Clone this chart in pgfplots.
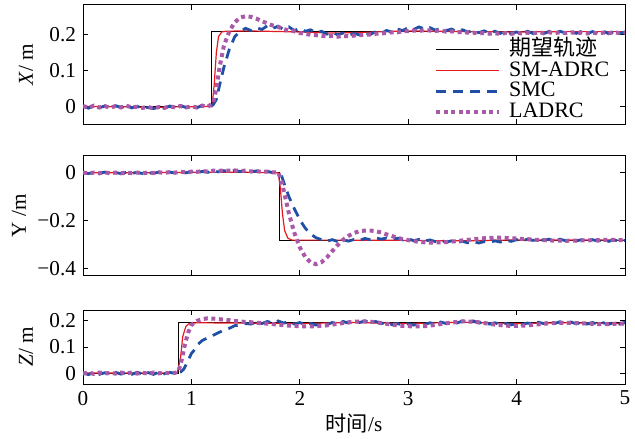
\documentclass[border=0pt]{standalone}
\usepackage{pgfplots}
\pgfplotsset{compat=1.18}
\usepackage{fontspec}
\setmainfont{Liberation Serif}
\newfontfamily\cjk{Noto Sans CJK SC}
\definecolor{smcblue}{RGB}{32,80,165}
\definecolor{ladrcpurple}{RGB}{170,88,168}
\definecolor{smred}{RGB}{230,25,30}
\pgfplotsset{
  every axis/.append style={font=\fontsize{10.6}{12}\selectfont},
  myax/.style={scale only axis, width=271pt, xmin=0, xmax=5,
    xtick={0,1,2,3,4,5}, tick align=inside, major tick length=2.5pt,
    anchor=north west, axis line style={line width=0.5pt},
    every tick/.style={black, line width=0.5pt},
    clip=true},
  ref/.style={black, line width=0.5pt},
  smadrc/.style={smred, line width=0.6pt},
  smc/.style={smcblue, line width=1.4pt, dash pattern=on 5pt off 3.5pt},
  ladrc/.style={ladrcpurple, line width=2pt, dash pattern=on 2pt off 1.8pt},
  legend image code/.code={\draw[#1] (0pt,0pt) -- (31.5pt,0pt);},
}
\begin{document}
\begin{tikzpicture}
\path[use as bounding box] (-41.5pt,2.5pt) rectangle (276pt,-216.5pt);
% ---------------- X ----------------
\begin{axis}[myax, at={(0pt,0pt)}, height=59.5pt,
  ymin=-0.048, ymax=0.283, ytick={0,0.1,0.2}, yticklabels={0,0.1,0.2},
  xticklabels={},
  ylabel={\textit{X}/ m}, ylabel style={at={(axis description cs:-0.105,0.5)}, anchor=center},
  legend style={draw=none, fill=none, at={(axis cs:3.235,0.188)}, anchor=north west,
    font=\fontsize{11}{12}\selectfont, row sep=0pt, inner sep=0pt,
    nodes={text height=7.6pt, text depth=2.2pt, inner sep=0.3pt, inner xsep=4pt}},
  legend cell align=left]
\addplot[ref] coordinates {(0,0) (1.19,0) (1.19,0.21) (5,0.21)};
\addlegendentry{{\cjk 期望轨迹}}
\addplot[smadrc] coordinates {(0,0) (0.1,0.001) (0.2,-0.001) (0.3,0.001) (0.4,0.0) (0.5,-0.001) (0.6,-0.002) (0.7,-0.002) (0.8,-0.001) (0.9,0) (1.0,0) (1.1,0.001) (1.19,0.0) (1.21,0.06) (1.23,0.15) (1.25,0.195) (1.28,0.208) (1.32,0.21) (1.5,0.211) (2.0,0.208) (2.3,0.205) (2.6,0.207) (3.0,0.211) (3.5,0.209) (4.0,0.208) (4.5,0.209) (5.0,0.209)};
\addlegendentry{SM-ADRC}
\addplot[smc] coordinates {(0,0.003) (0.05,-0.004) (0.1,0.004) (0.15,-0.003) (0.2,0.002) (0.25,-0.004) (0.3,0.003) (0.35,-0.002) (0.4,0.004) (0.45,-0.003) (0.5,0.001) (0.55,-0.004) (0.6,-0.002) (0.65,-0.005) (0.7,-0.001) (0.75,-0.004) (0.8,0.002) (0.85,-0.003) (0.9,0.003) (0.95,-0.002) (1.0,0.002) (1.05,-0.003) (1.1,0.004) (1.15,0.0) (1.2,0.005) (1.23,0.02) (1.26,0.06) (1.3,0.11) (1.35,0.16) (1.4,0.195) (1.45,0.21) (1.5,0.218) (1.55,0.212) (1.6,0.22) (1.65,0.215) (1.7,0.225) (1.75,0.218) (1.8,0.224) (1.85,0.215) (1.9,0.222) (1.95,0.212) (2.0,0.218) (2.05,0.21) (2.1,0.214) (2.15,0.205) (2.2,0.21) (2.25,0.202) (2.3,0.207) (2.35,0.2) (2.4,0.205) (2.45,0.198) (2.5,0.204) (2.55,0.2) (2.6,0.206) (2.65,0.201) (2.7,0.209) (2.75,0.204) (2.8,0.212) (2.85,0.208) (2.9,0.216) (2.95,0.212) (3.0,0.22) (3.05,0.215) (3.1,0.222) (3.15,0.216) (3.2,0.22) (3.25,0.213) (3.3,0.218) (3.35,0.212) (3.4,0.216) (3.45,0.209) (3.5,0.214) (3.55,0.208) (3.6,0.212) (3.65,0.206) (3.7,0.211) (3.75,0.205) (3.8,0.21) (3.85,0.204) (3.9,0.209) (3.95,0.203) (4.0,0.208) (4.05,0.203) (4.1,0.21) (4.15,0.204) (4.2,0.209) (4.25,0.203) (4.3,0.21) (4.35,0.204) (4.4,0.21) (4.45,0.205) (4.5,0.211) (4.55,0.204) (4.6,0.21) (4.65,0.203) (4.7,0.209) (4.75,0.204) (4.8,0.21) (4.85,0.203) (4.9,0.209) (4.95,0.204) (5.0,0.208)};
\addlegendentry{SMC}
\addplot[ladrc] coordinates {(0,0.002) (0.05,-0.003) (0.1,0.003) (0.15,-0.002) (0.2,0.002) (0.25,-0.003) (0.3,0.002) (0.35,-0.002) (0.4,0.003) (0.45,-0.002) (0.5,0.0) (0.55,-0.003) (0.6,-0.001) (0.65,-0.004) (0.7,-0.001) (0.75,-0.003) (0.8,0.001) (0.85,-0.002) (0.9,0.002) (0.95,-0.002) (1.0,0.001) (1.05,-0.002) (1.1,0.003) (1.15,0.0) (1.2,0.01) (1.23,0.05) (1.26,0.11) (1.3,0.17) (1.35,0.21) (1.4,0.235) (1.45,0.248) (1.5,0.252) (1.55,0.25) (1.6,0.245) (1.65,0.238) (1.7,0.232) (1.75,0.226) (1.8,0.222) (1.85,0.216) (1.9,0.212) (1.95,0.21) (2.0,0.205) (2.05,0.203) (2.1,0.2) (2.15,0.199) (2.2,0.197) (2.25,0.196) (2.3,0.197) (2.35,0.195) (2.4,0.197) (2.45,0.196) (2.5,0.198) (2.55,0.199) (2.6,0.2) (2.65,0.201) (2.7,0.203) (2.75,0.204) (2.8,0.205) (2.85,0.207) (2.9,0.207) (2.95,0.21) (3.0,0.21) (3.05,0.212) (3.1,0.211) (3.15,0.213) (3.2,0.212) (3.25,0.211) (3.3,0.212) (3.35,0.209) (3.4,0.21) (3.45,0.207) (3.5,0.208) (3.55,0.206) (3.6,0.206) (3.65,0.204) (3.7,0.205) (3.75,0.203) (3.8,0.204) (3.85,0.203) (3.9,0.205) (3.95,0.203) (4.0,0.205) (4.05,0.204) (4.1,0.206) (4.15,0.204) (4.2,0.207) (4.25,0.205) (4.3,0.207) (4.35,0.205) (4.4,0.207) (4.45,0.205) (4.5,0.207) (4.55,0.205) (4.6,0.206) (4.65,0.204) (4.7,0.206) (4.75,0.204) (4.8,0.206) (4.85,0.205) (4.9,0.207) (4.95,0.205) (5.0,0.206)};
\addlegendentry{LADRC}
\end{axis}
% ---------------- Y ----------------
\begin{axis}[myax, at={(0pt,-75.5pt)}, height=59.5pt,
  ymin=-0.425, ymax=0.07, ytick={-0.4,-0.2,0}, yticklabels={−0.4,−0.2,0},
  xticklabels={},
  ylabel={Y /m}, ylabel style={at={(axis description cs:-0.118,0.5)}, anchor=center}]
\addplot[ref] coordinates {(0,0) (1.81,0) (1.81,-0.28) (5,-0.28)};
\addplot[smadrc] coordinates {(0,0) (0.5,0.0) (1.0,0.002) (1.5,0.003) (1.8,0.0) (1.82,-0.06) (1.84,-0.17) (1.86,-0.24) (1.89,-0.272) (1.93,-0.28) (2.5,-0.28) (3.0,-0.281) (3.5,-0.283) (4.0,-0.279) (4.5,-0.279) (5.0,-0.28)};
\addplot[smc] coordinates {(0,0.002) (0.05,-0.003) (0.1,0.002) (0.15,-0.002) (0.2,0.003) (0.25,-0.003) (0.3,0.001) (0.35,-0.003) (0.4,0.002) (0.45,-0.002) (0.5,0.002) (0.55,-0.003) (0.6,0.001) (0.65,-0.002) (0.7,0.003) (0.75,-0.002) (0.8,0.003) (0.85,-0.001) (0.9,0.004) (0.95,0.0) (1.0,0.005) (1.05,0.001) (1.1,0.006) (1.15,0.002) (1.2,0.008) (1.25,0.004) (1.3,0.009) (1.35,0.005) (1.4,0.01) (1.45,0.005) (1.5,0.009) (1.55,0.004) (1.6,0.008) (1.65,0.003) (1.7,0.006) (1.75,0.001) (1.8,0.003) (1.83,-0.01) (1.86,-0.05) (1.9,-0.1) (1.95,-0.15) (2.0,-0.195) (2.05,-0.23) (2.1,-0.255) (2.15,-0.27) (2.2,-0.278) (2.25,-0.284) (2.3,-0.278) (2.35,-0.286) (2.4,-0.279) (2.45,-0.284) (2.5,-0.277) (2.55,-0.281) (2.6,-0.273) (2.65,-0.278) (2.7,-0.27) (2.75,-0.276) (2.8,-0.271) (2.85,-0.277) (2.9,-0.272) (2.95,-0.279) (3.0,-0.274) (3.05,-0.282) (3.1,-0.277) (3.15,-0.284) (3.2,-0.279) (3.25,-0.286) (3.3,-0.281) (3.35,-0.288) (3.4,-0.283) (3.45,-0.29) (3.5,-0.285) (3.55,-0.291) (3.6,-0.285) (3.65,-0.292) (3.7,-0.286) (3.75,-0.29) (3.8,-0.283) (3.85,-0.288) (3.9,-0.281) (3.95,-0.285) (4.0,-0.278) (4.05,-0.283) (4.1,-0.276) (4.15,-0.281) (4.2,-0.275) (4.25,-0.281) (4.3,-0.276) (4.35,-0.282) (4.4,-0.276) (4.45,-0.282) (4.5,-0.277) (4.55,-0.283) (4.6,-0.278) (4.65,-0.284) (4.7,-0.278) (4.75,-0.284) (4.8,-0.279) (4.85,-0.285) (4.9,-0.279) (4.95,-0.285) (5.0,-0.281)};
\addplot[ladrc] coordinates {(0,0.001) (0.05,-0.002) (0.1,0.001) (0.15,-0.002) (0.2,0.002) (0.25,-0.002) (0.3,0.001) (0.35,-0.002) (0.4,0.001) (0.45,-0.001) (0.5,0.001) (0.55,-0.002) (0.6,0.001) (0.65,-0.001) (0.7,0.002) (0.75,0.0) (0.8,0.003) (0.85,0.001) (0.9,0.004) (0.95,0.002) (1.0,0.005) (1.05,0.004) (1.1,0.007) (1.15,0.006) (1.2,0.009) (1.25,0.008) (1.3,0.01) (1.35,0.009) (1.4,0.01) (1.45,0.008) (1.5,0.009) (1.55,0.006) (1.6,0.007) (1.65,0.004) (1.7,0.005) (1.75,0.002) (1.8,0.002) (1.83,-0.03) (1.86,-0.09) (1.9,-0.17) (1.95,-0.25) (2.0,-0.31) (2.05,-0.35) (2.1,-0.373) (2.15,-0.38) (2.2,-0.372) (2.25,-0.352) (2.3,-0.325) (2.35,-0.3) (2.4,-0.278) (2.45,-0.262) (2.5,-0.25) (2.55,-0.243) (2.6,-0.24) (2.65,-0.24) (2.7,-0.243) (2.75,-0.248) (2.8,-0.256) (2.85,-0.263) (2.9,-0.27) (2.95,-0.276) (3.0,-0.28) (3.05,-0.284) (3.1,-0.287) (3.15,-0.289) (3.2,-0.29) (3.25,-0.29) (3.3,-0.289) (3.35,-0.288) (3.4,-0.286) (3.45,-0.284) (3.5,-0.281) (3.55,-0.279) (3.6,-0.276) (3.65,-0.274) (3.7,-0.272) (3.75,-0.271) (3.8,-0.27) (3.85,-0.27) (3.9,-0.271) (3.95,-0.272) (4.0,-0.273) (4.05,-0.275) (4.1,-0.276) (4.15,-0.278) (4.2,-0.279) (4.25,-0.28) (4.3,-0.281) (4.35,-0.282) (4.4,-0.282) (4.45,-0.283) (4.5,-0.282) (4.55,-0.282) (4.6,-0.281) (4.65,-0.281) (4.7,-0.28) (4.75,-0.28) (4.8,-0.279) (4.85,-0.279) (4.9,-0.279) (4.95,-0.28) (5.0,-0.28)};
\end{axis}
% ---------------- Z ----------------
\begin{axis}[myax, at={(0pt,-152.5pt)}, height=37pt,
  ymin=-0.042, ymax=0.242, ytick={0,0.1,0.2}, yticklabels={0,0.1,0.2},
  xticklabels={0,1,2,3,4,5},
  xlabel={{\cjk 时间}/s}, xlabel style={yshift=2.5pt},
  ylabel={\textit{Z}/ m}, ylabel style={at={(axis description cs:-0.105,0.5)}, anchor=center}]
\addplot[ref] coordinates {(0,0) (0.88,0) (0.88,0.193) (5,0.193)};
\addplot[smadrc] coordinates {(0,0) (0.5,0.0) (0.87,0.0) (0.9,0.06) (0.92,0.14) (0.95,0.18) (0.98,0.19) (1.05,0.193) (2.0,0.19) (2.5,0.194) (3.0,0.19) (3.5,0.195) (4.0,0.19) (4.5,0.193) (5.0,0.19)};
\addplot[smc] coordinates {(0,0.0) (0.05,-0.006) (0.1,0.002) (0.15,-0.005) (0.2,0.001) (0.25,-0.004) (0.3,0.003) (0.35,-0.004) (0.4,0.002) (0.45,-0.005) (0.5,0.003) (0.55,-0.004) (0.6,0.002) (0.65,-0.005) (0.7,0.004) (0.75,-0.003) (0.8,0.003) (0.85,-0.002) (0.9,0.004) (0.93,0.015) (0.96,0.04) (1.0,0.075) (1.03,0.09) (1.06,0.11) (1.1,0.125) (1.15,0.135) (1.2,0.145) (1.25,0.155) (1.3,0.165) (1.35,0.172) (1.4,0.182) (1.45,0.184) (1.5,0.19) (1.55,0.188) (1.6,0.196) (1.65,0.19) (1.7,0.198) (1.75,0.192) (1.8,0.2) (1.85,0.192) (1.9,0.197) (1.95,0.188) (2.0,0.194) (2.05,0.186) (2.1,0.19) (2.15,0.184) (2.2,0.19) (2.25,0.186) (2.3,0.194) (2.35,0.19) (2.4,0.198) (2.45,0.192) (2.5,0.2) (2.55,0.194) (2.6,0.2) (2.65,0.193) (2.7,0.198) (2.75,0.19) (2.8,0.194) (2.85,0.186) (2.9,0.19) (2.95,0.184) (3.0,0.189) (3.05,0.184) (3.1,0.19) (3.15,0.186) (3.2,0.193) (3.25,0.188) (3.3,0.196) (3.35,0.19) (3.4,0.198) (3.45,0.192) (3.5,0.2) (3.55,0.194) (3.6,0.2) (3.65,0.192) (3.7,0.196) (3.75,0.188) (3.8,0.193) (3.85,0.186) (3.9,0.19) (3.95,0.185) (4.0,0.19) (4.05,0.186) (4.1,0.192) (4.15,0.188) (4.2,0.195) (4.25,0.19) (4.3,0.196) (4.35,0.19) (4.4,0.197) (4.45,0.19) (4.5,0.196) (4.55,0.189) (4.6,0.195) (4.65,0.188) (4.7,0.194) (4.75,0.187) (4.8,0.193) (4.85,0.187) (4.9,0.194) (4.95,0.188) (5.0,0.195)};
\addplot[ladrc] coordinates {(0,-0.002) (0.05,0.002) (0.1,-0.003) (0.15,0.002) (0.2,-0.002) (0.25,0.001) (0.3,-0.002) (0.35,0.002) (0.4,-0.001) (0.45,0.002) (0.5,-0.002) (0.55,0.001) (0.6,-0.002) (0.65,0.002) (0.7,-0.001) (0.75,0.002) (0.8,-0.001) (0.85,0.001) (0.88,0.005) (0.91,0.05) (0.94,0.11) (0.97,0.155) (1.0,0.185) (1.05,0.2) (1.1,0.207) (1.15,0.21) (1.2,0.209) (1.25,0.207) (1.3,0.205) (1.35,0.203) (1.4,0.2) (1.45,0.198) (1.5,0.196) (1.55,0.195) (1.6,0.193) (1.65,0.191) (1.7,0.19) (1.75,0.188) (1.8,0.186) (1.85,0.184) (1.9,0.182) (1.95,0.181) (2.0,0.18) (2.05,0.179) (2.1,0.179) (2.15,0.18) (2.2,0.181) (2.25,0.183) (2.3,0.186) (2.35,0.189) (2.4,0.192) (2.45,0.195) (2.5,0.197) (2.55,0.198) (2.6,0.198) (2.65,0.197) (2.7,0.195) (2.75,0.192) (2.8,0.189) (2.85,0.186) (2.9,0.183) (2.95,0.181) (3.0,0.18) (3.05,0.179) (3.1,0.179) (3.15,0.18) (3.2,0.182) (3.25,0.185) (3.3,0.188) (3.35,0.191) (3.4,0.194) (3.45,0.196) (3.5,0.198) (3.55,0.198) (3.6,0.197) (3.65,0.195) (3.7,0.192) (3.75,0.189) (3.8,0.186) (3.85,0.184) (3.9,0.182) (3.95,0.181) (4.0,0.181) (4.05,0.182) (4.1,0.183) (4.15,0.185) (4.2,0.187) (4.25,0.189) (4.3,0.191) (4.35,0.192) (4.4,0.193) (4.45,0.193) (4.5,0.193) (4.55,0.192) (4.6,0.191) (4.65,0.19) (4.7,0.189) (4.75,0.188) (4.8,0.188) (4.85,0.188) (4.9,0.189) (4.95,0.19) (5.0,0.19)};
\end{axis}
\end{tikzpicture}
\end{document}
